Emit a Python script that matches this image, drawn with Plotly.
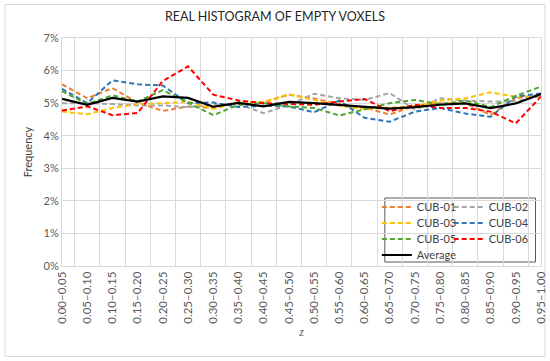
import plotly.graph_objects as go

categories = ["0.00–0.05", "0.05–0.10", "0.10–0.15", "0.15–0.20", "0.20–0.25",
              "0.25–0.30", "0.30–0.35", "0.35–0.40", "0.40–0.45", "0.45–0.50",
              "0.50–0.55", "0.55–0.60", "0.60–0.65", "0.65–0.70", "0.70–0.75",
              "0.75–0.80", "0.80–0.85", "0.85–0.90", "0.90–0.95", "0.95–1.00"]

cub01 = [5.58, 5.15, 5.46, 5.02, 4.76, 4.90, 4.85, 5.03, 5.02, 5.26, 5.14, 4.97, 4.86, 4.65, 4.92, 5.00, 5.00, 4.64, 5.15, 5.25]
cub02 = [5.00, 5.00, 4.97, 4.93, 4.93, 4.88, 4.95, 4.98, 4.69, 4.95, 5.29, 5.15, 5.10, 5.31, 4.80, 5.15, 5.08, 5.05, 5.05, 5.22]
cub03 = [4.74, 4.66, 4.85, 4.97, 5.00, 5.05, 4.82, 5.03, 5.04, 5.27, 5.10, 4.92, 4.82, 4.85, 4.90, 5.08, 5.15, 5.33, 5.20, 5.25]
cub04 = [5.44, 5.00, 5.70, 5.58, 5.54, 5.00, 5.02, 4.88, 4.92, 4.90, 4.72, 5.08, 4.55, 4.43, 4.74, 4.85, 4.68, 4.58, 5.20, 5.30]
cub05 = [5.37, 4.97, 5.24, 5.05, 5.40, 5.02, 4.63, 4.95, 5.00, 4.90, 4.85, 4.62, 4.80, 5.00, 5.10, 4.97, 5.08, 4.88, 5.22, 5.51]
cub06 = [4.77, 4.90, 4.63, 4.70, 5.68, 6.13, 5.26, 5.08, 5.00, 4.98, 4.95, 5.05, 5.13, 4.75, 4.95, 4.85, 4.85, 4.74, 4.38, 5.20]
average = [5.13, 4.95, 5.16, 5.05, 5.21, 5.16, 4.89, 5.01, 4.90, 5.04, 5.00, 4.95, 4.88, 4.83, 4.88, 4.95, 4.99, 4.85, 4.99, 5.28]

# name, values, colour, legend column, legend row
series = [
    ("CUB-01", cub01, "#ED7D31", 0, 0),
    ("CUB-02", cub02, "#A5A5A5", 1, 0),
    ("CUB-03", cub03, "#FFC000", 0, 1),
    ("CUB-04", cub04, "#2E75B6", 1, 1),
    ("CUB-05", cub05, "#4EA72E", 0, 2),
    ("CUB-06", cub06, "#FF0000", 1, 2),
]

FONT = "Lato, 'Noto Sans', sans-serif"

W, H = 550, 361
ml, mr, mt, mb = 61.5, 8.5, 38, 95

def px_x(p):
    return (p - ml) / (W - ml - mr)

def px_y(p):
    return (H - mb - p) / (H - mt - mb)

row_y = [207, 223, 239, 255]
col_x = [377, 449]

leg_common = dict(bgcolor="rgba(0,0,0,0)", borderwidth=0,
                  font=dict(size=11, color="#404040", family=FONT),
                  itemwidth=30, xanchor="left", yanchor="middle")

fig = go.Figure()
legends = {}
for k, (name, vals, color, col, row) in enumerate(series):
    lg = "legend" if k == 0 else f"legend{k + 1}"
    legends[lg] = dict(x=px_x(col_x[col]), y=px_y(row_y[row]), **leg_common)
    fig.add_trace(go.Scatter(x=categories, y=vals, name=name, mode="lines",
                             line=dict(color=color, width=2, dash="5px,3px"),
                             legend=lg))
legends["legend7"] = dict(x=px_x(col_x[0]), y=px_y(row_y[3]), **leg_common)
fig.add_trace(go.Scatter(x=categories, y=average, name="Average", mode="lines",
                         line=dict(color="black", width=2.2), legend="legend7"))

fig.update_layout(
    template="none",
    width=W, height=H,
    margin=dict(l=ml, r=mr, t=mt, b=mb, autoexpand=False),
    paper_bgcolor="white", plot_bgcolor="white",
    font=dict(family=FONT, color="#595959"),
    title=dict(text="REAL HISTOGRAM OF EMPTY VOXELS", x=0.5, xanchor="center",
               y=1 - 17 / H, yanchor="middle",
               font=dict(size=12.5, color="#262626", family=FONT)),
    xaxis=dict(type="category", tickson="boundaries", showgrid=True, gridcolor="#D9D9D9",
               gridwidth=1, ticks="", tickangle=-90, tickfont=dict(size=11.5, color="#595959"),
               showline=True, linecolor="#D9D9D9", linewidth=1, mirror=True, automargin=False,
               title=dict(text="<i>z</i>", font=dict(size=12, color="#595959", family="'Liberation Serif', serif"),
                          standoff=4),
               zeroline=False),
    yaxis=dict(range=[0, 7], dtick=1, ticksuffix="%", showgrid=True, gridcolor="#D9D9D9",
               tickfont=dict(size=11, color="#595959"), ticks="", zeroline=False, automargin=False,
               showline=True, linecolor="#D9D9D9", linewidth=1, mirror=True,
               title=dict(text="Frequency", font=dict(size=11, color="#404040"), standoff=8)),
    showlegend=True,
    shapes=[
        dict(type="rect", xref="paper", yref="paper",
             x0=px_x(385), x1=px_x(536), y0=px_y(262), y1=px_y(198),
             line=dict(color="#595959", width=1), fillcolor="white", layer="below"),
        dict(type="rect", xref="paper", yref="paper",
             x0=px_x(4.5), x1=px_x(545.5), y0=px_y(356.5), y1=px_y(4.5),
             line=dict(color="#D9D9D9", width=1), fillcolor="rgba(0,0,0,0)", layer="below"),
    ],
    **legends,
)

fig.write_html("out.html", config={"displayModeBar": False},
               post_script="document.body.style.margin='0';document.body.style.padding='0';")
